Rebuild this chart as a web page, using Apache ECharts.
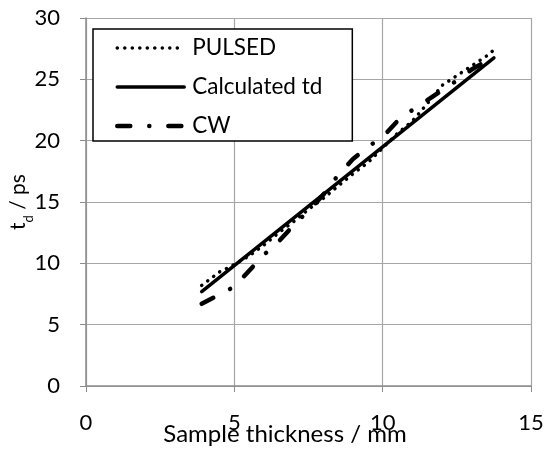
<!DOCTYPE html>
<html>
<head>
<meta charset="utf-8">
<script src="https://cdn.jsdelivr.net/npm/echarts@6/dist/echarts.min.js"></script>
<style>
  html, body { margin: 0; padding: 0; background: #fff; }
  #chart { width: 545px; height: 450px; }
</style>
</head>
<body>
<div id="chart"></div>
<script>
// sample thickness (mm) where the measured curves were read
const thickness = [3.9, 4.5, 5.0, 5.5, 6.0, 6.5, 7.0, 7.5, 8.0, 8.5, 9.0, 9.5, 10.0, 10.5, 11.0, 11.5, 12.0, 12.5, 13.0, 13.5, 13.7];
const pulsed = [8.2, 9.3, 9.9, 10.6, 11.5, 12.5, 13.4, 14.4, 15.3, 16.3, 17.3, 18.2, 19.4, 20.6, 21.6, 23.0, 24.5, 25.3, 26.1, 26.9, 27.3];
const cw = [6.7, 7.45, 8.1, 9.4, 10.7, 11.8, 13.1, 14.3, 15.6, 17.2, 18.5, 19.5, 20.3, 21.6, 22.5, 23.3, 24.1, 24.9, 25.8, 26.5, 26.7];
// calculated td: straight line
const calcX = [3.9, 13.75];
const calcY = [7.7, 26.75];

const xTicks = [0, 5, 10, 15];
const yTicks = [0, 5, 10, 15, 20, 25, 30];

const font = 'Lato';

const toPairs = (xs, ys) => xs.map((x, i) => [x, ys[i]]);

const pulsedLine = { color: '#000', width: 3.5, type: [0.1, 7.4], cap: 'round' };
const calcLine = { color: '#000', width: 3.5, cap: 'round' };
const cwLine = { color: '#000', width: 4.5, type: [13, 19, 0.1, 19], cap: 'round' };

const chart = echarts.init(document.getElementById('chart'));

chart.setOption({
  backgroundColor: '#fff',
  animation: false,
  color: ['#000', '#000', '#000'],
  textStyle: { fontFamily: font, color: '#000' },
  grid: { left: 86, right: 14, top: 18, bottom: 64, containLabel: false, outerBoundsMode: 'none' },
  legend: {
    orient: 'vertical',
    left: 93,
    top: 29,
    padding: [6, 30, 2, 22],
    itemWidth: 67,
    itemHeight: 14,
    itemGap: 13,
    borderColor: '#000',
    borderWidth: 1.5,
    backgroundColor: '#fff',
    itemStyle: { opacity: 0 },
    textStyle: { fontFamily: font, fontSize: 22.5, lineHeight: 26, color: '#000', padding: [0, 0, 0, 3] },
    data: [
      { name: 'PULSED', lineStyle: pulsedLine },
      { name: 'Calculated td', lineStyle: calcLine },
      { name: 'CW', lineStyle: cwLine }
    ]
  },
  xAxis: {
    type: 'value',
    min: xTicks[0],
    max: xTicks[xTicks.length - 1],
    interval: 5,
    name: 'Sample thickness / mm',
    nameLocation: 'middle',
    nameGap: 36,
    nameMoveOverlap: false,
    nameTextStyle: { fontFamily: font, fontSize: 24, color: '#000', padding: [0, 47, 0, 0] },
    axisLine: { lineStyle: { color: '#8c8c8c', width: 1.5 } },
    axisTick: { show: true, length: 6, lineStyle: { color: '#8c8c8c' } },
    axisLabel: { fontFamily: font, fontSize: 22, color: '#000', margin: 26 },
    splitLine: { show: true, lineStyle: { color: '#a6a6a6', width: 1.2 } }
  },
  yAxis: {
    type: 'value',
    min: yTicks[0],
    max: yTicks[yTicks.length - 1],
    interval: 5,
    name: '{t|t}{d|d}{t| / ps}',
    nameLocation: 'middle',
    nameRotate: 90,
    nameGap: 55,
    nameMoveOverlap: false,
    nameTextStyle: {
      rich: {
        t: { fontFamily: font, fontSize: 21, color: '#000', lineHeight: 26 },
        d: { fontFamily: font, fontSize: 13, color: '#000', lineHeight: 26, verticalAlign: 'bottom', padding: [0, 0, -4, 0] }
      }
    },
    axisLine: { show: true, lineStyle: { color: '#8c8c8c', width: 1.5 } },
    axisTick: { show: true, length: 6, lineStyle: { color: '#8c8c8c' } },
    axisLabel: { fontFamily: font, fontSize: 22, color: '#000', margin: 26 },
    splitLine: { show: true, lineStyle: { color: '#a6a6a6', width: 1.2 } }
  },
  series: [
    {
      name: 'Calculated td',
      type: 'line',
      symbol: 'none',
      z: 2,
      data: toPairs(calcX, calcY),
      lineStyle: calcLine
    },
    {
      name: 'PULSED',
      type: 'line',
      symbol: 'none',
      z: 3,
      data: toPairs(thickness, pulsed),
      lineStyle: pulsedLine
    },
    {
      name: 'CW',
      type: 'line',
      symbol: 'none',
      z: 4,
      data: toPairs(thickness, cw),
      lineStyle: cwLine
    }
  ]
});
</script>
</body>
</html>
